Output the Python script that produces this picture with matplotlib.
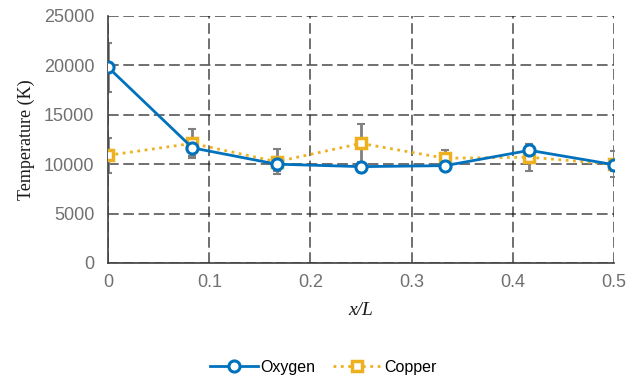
import matplotlib
matplotlib.use("Agg")
import matplotlib.pyplot as plt
import numpy as np

x = [0, 1/12, 2/12, 3/12, 4/12, 5/12, 6/12]
oxygen = [19800, 11650, 10000, 9750, 9850, 11400, 9950]
oxygen_err = [2500, 800, 700, 500, 500, 600, 600]
copper = [10900, 12100, 10250, 12100, 10600, 10700, 10000]
copper_err = [1750, 1500, 1250, 2000, 800, 1350, 1350]

xticks = [0, 0.1, 0.2, 0.3, 0.4, 0.5]
yticks = [0, 5000, 10000, 15000, 20000, 25000]

blue = "#0072BD"
gold = "#EDB120"
gray = "#808080"
tickcol = "#707070"

fig = plt.figure(figsize=(6.4, 3.8), dpi=100)
ax = fig.add_axes([0.169, 0.308, 0.790, 0.650])

ax.errorbar(x, oxygen, yerr=oxygen_err, fmt="none", ecolor=gray, elinewidth=2, capsize=3, capthick=1.5, zorder=2)
ax.errorbar(x, copper, yerr=copper_err, fmt="none", ecolor=gray, elinewidth=2, capsize=3, capthick=1.5, zorder=2)
ax.plot(x, oxygen, "-o", color=blue, lw=2, ms=8, mfc="white", mec=blue, mew=2.2, label="Oxygen", zorder=4)
ax.plot(x, copper, ":s", color=gold, lw=2, ms=7, mfc="white", mec=gold, mew=2.5, label="Copper", zorder=3)

ax.set_xlim(0, 0.5)
ax.set_ylim(0, 25000)
ax.set_xticks(xticks)
ax.set_yticks(yticks)
ax.set_xticklabels(["0", "0.1", "0.2", "0.3", "0.4", "0.5"])
ax.set_yticklabels([str(v) for v in yticks])
ax.grid(True, color="#1a1a1a", linestyle=(0, (7, 3)), linewidth=1.1, alpha=0.8)
ax.set_axisbelow(True)
for s in ["top", "right"]:
    ax.spines[s].set_visible(False)
for s in ["left", "bottom"]:
    ax.spines[s].set_color("#404040")
    ax.spines[s].set_linewidth(1.2)
ax.tick_params(axis="both", colors=tickcol, labelsize=13, length=0,
               labelfontfamily="Liberation Sans")
ax.tick_params(axis="y", pad=10)
ax.tick_params(axis="x", pad=8)
ax.set_ylabel("Temperature (K)", family="Liberation Serif", fontsize=13, color="#1a1a1a", labelpad=6)
ax.set_xlabel("x/L", family="Liberation Serif", style="italic", fontsize=14, color="#1a1a1a", labelpad=8)

fig.legend(loc="center", bbox_to_anchor=(0.505, 0.034), ncol=2, frameon=False,
           prop={"family": "Liberation Sans", "size": 11.5}, handlelength=3, columnspacing=1.1, handletextpad=0.2)

fig.savefig("out.png", dpi=100)
